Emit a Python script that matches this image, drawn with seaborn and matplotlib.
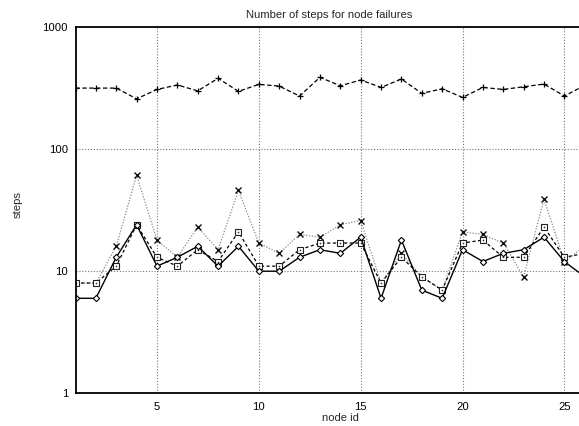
import matplotlib
matplotlib.use("Agg")
import matplotlib.pyplot as plt
import seaborn as sns
import numpy as np

# Steps needed per failed node, for four strategies
node_id = list(range(1, 27))
steps_plus = [316, 316, 316, 258, 308, 335, 300, 380, 297, 339, 328, 272, 387,
              330, 368, 320, 375, 286, 312, 265, 320, 308, 324, 341, 272, 333]
steps_cross = [8, 8, 16, 61, 18, 13, 23, 15, 46, 17, 14, 20, 19,
               24, 26, 8, 14, 9, 7, 21, 20, 17, 9, 39, 12, 16]
steps_square = [8, 8, 11, 24, 13, 11, 15, 12, 21, 11, 11, 15, 17,
                17, 17, 8, 13, 9, 7, 17, 18, 13, 13, 23, 13, 14]
steps_diamond = [6, 6, 13, 24, 11, 13, 16, 11, 16, 10, 10, 13, 15,
                 14, 19, 6, 18, 7, 6, 15, 12, 14, 15, 19, 12, 9]

x_ticks = [5, 10, 15, 20, 25]
y_ticks = [1, 10, 100, 1000]
y_tick_labels = ["1", "10", "100", "1000"]

FS = 8.1

sns.set_theme(style="white")
plt.rcParams["font.family"] = ["Liberation Sans", "DejaVu Sans"]
plt.rcParams["font.size"] = FS

fig = plt.figure(figsize=(5.79, 4.26), dpi=100)
W, H = 579, 426
left_px, top_px, bottom_px = 75.5, 27.0, 393.3
px_per_unit = 20.37
x_max = 27
ax = fig.add_axes([left_px / W, 1 - bottom_px / H,
                   (x_max - 1) * px_per_unit / W, (bottom_px - top_px) / H])

# dotted grid at the labelled ticks
for xv in x_ticks:
    ax.axvline(xv, color="#777777", lw=0.8, ls=(0, (1, 1.6)), zorder=0)
for yv in [10, 100]:
    ax.axhline(yv, color="#777777", lw=0.8, ls=(0, (1, 1.6)), zorder=0)

sns.lineplot(x=node_id, y=steps_plus, ax=ax, color="black", lw=0.9,
             ls=(0, (3.5, 2)), marker="+", markersize=5, mew=0.9,
             markeredgecolor="black")
sns.lineplot(x=node_id, y=steps_cross, ax=ax, color="#8a8a8a", lw=0.9,
             ls=(0, (1, 1.3)), marker="x", markersize=4.5, mew=1.0,
             markeredgecolor="#111111")
sns.lineplot(x=node_id, y=steps_square, ax=ax, color="black", lw=0.9,
             ls=(0, (2.5, 2)), marker="s", markersize=5, mew=0.8,
             markerfacecolor="white", markeredgecolor="#222222")
sns.lineplot(x=node_id, y=steps_square, ax=ax, color="black", lw=0,
             marker="o", markersize=1.2, mew=0, markerfacecolor="#333333")
sns.lineplot(x=node_id, y=steps_diamond, ax=ax, color="black", lw=1.0,
             marker="D", markersize=3.2, mew=0.8,
             markerfacecolor="white", markeredgecolor="black")

ax.set_yscale("log")
ax.set_ylim(1, 1000)
ax.set_xlim(1, x_max)
ax.set_yticks(y_ticks)
ax.set_yticklabels(y_tick_labels)
ax.minorticks_off()
ax.set_xticks(x_ticks)
ax.set_xticklabels([str(v) for v in x_ticks])
ax.tick_params(axis="both", length=0, colors="black", labelsize=FS)
ax.tick_params(axis="y", pad=5.4)
ax.tick_params(axis="x", pad=6)

for side in ["left", "bottom", "top"]:
    ax.spines[side].set_visible(True)
    ax.spines[side].set_color("black")
    ax.spines[side].set_linewidth(1.3)
ax.spines["right"].set_visible(False)

ax.set_xlabel("node id", fontsize=FS, labelpad=1)
fig.text(17.5 / W, 1 - 205 / H, "steps", rotation=90, ha="center",
         va="center", fontsize=FS)
fig.text(329 / W, 1 - 15 / H, "Number of steps for node failures",
         ha="center", va="center", fontsize=FS)

fig.savefig("out.png", dpi=100)
